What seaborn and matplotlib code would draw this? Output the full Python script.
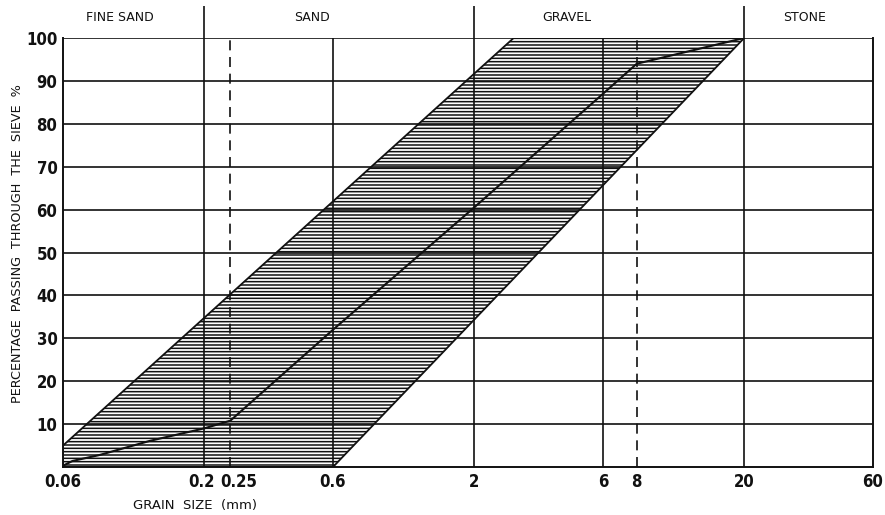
import matplotlib
matplotlib.use("Agg")
import matplotlib.pyplot as plt
import matplotlib.transforms as mtransforms
import numpy as np
import pandas as pd
import seaborn as sns

# Sieve sizes (mm) shown on the log axis
x_ticks = [0.06, 0.2, 0.25, 0.6, 2, 6, 8, 20, 60]
x_tick_labels = ["0.06", "0.2", "0.25", "0.6", "2", "6", "8", "20", "60"]
y_ticks = [10, 20, 30, 40, 50, 60, 70, 80, 90, 100]

# Solid and dashed vertical reference lines
solid_sizes = [0.2, 0.6, 2, 6, 20]
dashed_sizes = [0.25, 8]

# Soil class boundaries and names
class_bounds = [0.2, 2, 20]
class_names = ["FINE SAND", "SAND", "GRAVEL", "STONE"]

# Recommended grading envelope (polygon corners: size, % passing)
envelope_size = [0.06, 0.6, 20, 2.8, 0.06]
envelope_pass = [0, 0, 100, 100, 5]

# Grading curve of the sample
sample_size = [0.06, 0.065, 0.082, 0.126, 0.2, 0.25, 0.6, 2, 6, 8, 20]
sample_pass = [0.3, 1.4, 2.8, 6.1, 9.0, 10.8, 32, 60.5, 87, 94, 100]

sns.set_theme(style="white")
plt.rcParams["font.family"] = ["DejaVu Sans"]
plt.rcParams["hatch.linewidth"] = 1.1
plt.rcParams["hatch.color"] = "#111111"

INK = "#111111"
W, H = 885, 515
fig = plt.figure(figsize=(W / 100, H / 100), dpi=100)
ax = fig.add_axes([63 / W, (H - 467) / H, 810 / W, 429 / H])
ax.set_xscale("log")
ax.set_xlim(0.06, 60)
ax.set_ylim(0, 100)

# Grading envelope with horizontal hatching
ax.fill(envelope_size, envelope_pass, facecolor="white", edgecolor=INK,
        hatch="-----", linewidth=1.3, zorder=2)

# Horizontal grid at every 10 %
for y in y_ticks:
    ax.axhline(y, color=INK, lw=1.2, zorder=3)
for xv in solid_sizes:
    ax.axvline(xv, color=INK, lw=1.2, zorder=3)
for xv in dashed_sizes:
    ax.axvline(xv, color=INK, lw=1.2, ls=(0, (6, 4)), zorder=3)

# Sample grading curve
df = pd.DataFrame({"size": sample_size, "passing": sample_pass})
sns.lineplot(data=df, x="size", y="passing", sort=False, color=INK,
             lw=1.5, ax=ax, zorder=4)

# Class boundaries continue above the chart, names between them
ax.vlines(class_bounds, 100, 107.5, color=INK, lw=1.2, clip_on=False)
label_pos = [0.0975, 0.50, 4.4, 33.6]
for xv, name in zip(label_pos, class_names):
    ax.text(xv, 104.8, name, ha="center", va="center", fontsize=9,
            color=INK, family=["DejaVu Sans"])

for side in ["left", "bottom", "right", "top"]:
    ax.spines[side].set_color(INK)
    ax.spines[side].set_linewidth(1.4)
ax.spines["top"].set_visible(False)

tick_font = dict(family=["DejaVu Sans"], fontstretch="condensed",
                 weight="bold", size=12)
ax.set_xticks(x_ticks)
ax.set_xticklabels(x_tick_labels, **tick_font)
ax.xaxis.set_minor_locator(matplotlib.ticker.NullLocator())
ax.set_yticks(y_ticks)
ax.set_yticklabels([str(v) for v in y_ticks], **tick_font)
ax.tick_params(length=0, pad=4, colors=INK)
# spread the crowded 0.2 / 0.25 labels apart
lbls = ax.get_xticklabels()
left = mtransforms.ScaledTranslation(-3 / 100, 0, fig.dpi_scale_trans)
right = mtransforms.ScaledTranslation(8 / 100, 0, fig.dpi_scale_trans)
lbls[1].set_transform(lbls[1].get_transform() + left)
lbls[2].set_transform(lbls[2].get_transform() + right)

ax.set_xlabel("")
ax.set_ylabel("")
fig.text(195 / W, 1 - 506 / H, "GRAIN  SIZE  (mm)", ha="center", va="center",
         fontsize=9.5, color=INK)
fig.text(18 / W, 1 - 244 / H, "PERCENTAGE  PASSING  THROUGH  THE  SIEVE  %",
         rotation=90, ha="center", va="center", fontsize=9.2, color=INK)

fig.savefig("out.png", dpi=100)
